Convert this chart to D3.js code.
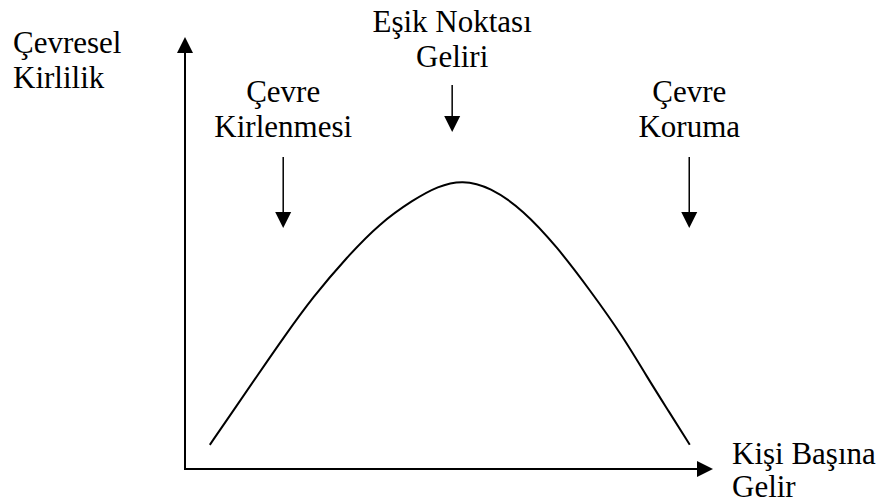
<!DOCTYPE html>
<html>
<head>
<meta charset="utf-8">
<script src="https://cdn.jsdelivr.net/npm/d3@7"></script>
<style>
  body { margin: 0; background: #fff; }
  svg text { font-family: "Liberation Serif", serif; font-size: 31px; fill: #000; }
</style>
</head>
<body>
<div id="chart"></div>
<script>
// Curve: income (x) vs pollution (y)
const income = [4.7, 9.1, 13.8, 18.6, 24.2, 30.7, 36.9, 43.2, 47.9, 52.5, 57.8, 64.0, 70.5, 76.7, 83.0, 87.5, 91.7, 95.6];
const pollution = [5.6, 13.4, 21.8, 30.3, 39.8, 49.1, 56.9, 62.3, 65.5, 66.9, 65.3, 60.0, 51.4, 41.4, 30.6, 21.3, 13.2, 5.6];

// Annotations above the curve
const noteLines = [["Çevre", "Kirlenmesi"], ["Eşik Noktası", "Geliri"], ["Çevre", "Koruma"]];
const noteX = [18.6, 50.6, 95.5];

// Axis titles
const yTitle = ["Çevresel", "Kirlilik"];
const xTitle = ["Kişi Başına", "Gelir"];

const width = 891, height = 501;
const svg = d3.select("#chart").append("svg")
    .attr("width", width)
    .attr("height", height)
    .attr("font-family", "Liberation Serif");

const x = d3.scaleLinear().domain([0, 100]).range([185, 713]);
const y = d3.scaleLinear().domain([0, 100]).range([469, 37]);

// Axes with arrowheads
svg.append("line")
    .attr("x1", x(0)).attr("y1", y(0))
    .attr("x2", x(0)).attr("y2", y(100) + 14)
    .attr("stroke", "#000").attr("stroke-width", 2);
svg.append("path")
    .attr("d", `M${x(0)},${y(100)} L${x(0) - 8},${y(100) + 16} L${x(0) + 8},${y(100) + 16} Z`)
    .attr("fill", "#000");

svg.append("line")
    .attr("x1", x(0) - 1).attr("y1", y(0))
    .attr("x2", x(100) - 14).attr("y2", y(0))
    .attr("stroke", "#000").attr("stroke-width", 2);
svg.append("path")
    .attr("d", `M${x(100)},${y(0)} L${x(100) - 16},${y(0) - 8} L${x(100) - 16},${y(0) + 8} Z`)
    .attr("fill", "#000");

// The curve (basis keeps it smooth through slightly noisy readings)
const pts = income.map((d, i) => [d, pollution[i]]);
const line = d3.line()
    .x(d => x(d[0]))
    .y(d => y(d[1]))
    .curve(d3.curveBasis);

svg.append("path")
    .datum(pts)
    .attr("d", line)
    .attr("fill", "none")
    .attr("stroke", "#000")
    .attr("stroke-width", 2);

// Annotation labels + down arrows
const noteTop = [102, 32, 102];   // baseline of first line
const arrowTop = [157, 85, 157];
const arrowTip = [228, 132, 228];

noteLines.forEach((lines, i) => {
    const cx = x(noteX[i]);
    svg.append("text")
        .attr("x", cx)
        .attr("y", noteTop[i])
        .attr("text-anchor", "middle")
        .text(lines[0]);
    svg.append("text")
        .attr("x", cx)
        .attr("y", noteTop[i] + 35)
        .attr("text-anchor", "middle")
        .text(lines[1]);

    svg.append("line")
        .attr("x1", cx).attr("y1", arrowTop[i])
        .attr("x2", cx).attr("y2", arrowTip[i] - 12)
        .attr("stroke", "#000").attr("stroke-width", 1.5);
    svg.append("path")
        .attr("d", `M${cx},${arrowTip[i]} L${cx - 8},${arrowTip[i] - 16} L${cx + 8},${arrowTip[i] - 16} Z`)
        .attr("fill", "#000");
});

// Axis titles
yTitle.forEach((t, i) => {
    svg.append("text")
        .attr("x", 13)
        .attr("y", 53 + i * 35)
        .text(t);
});
xTitle.forEach((t, i) => {
    svg.append("text")
        .attr("x", 732)
        .attr("y", 464 + i * 33)
        .text(t);
});
</script>
</body>
</html>
